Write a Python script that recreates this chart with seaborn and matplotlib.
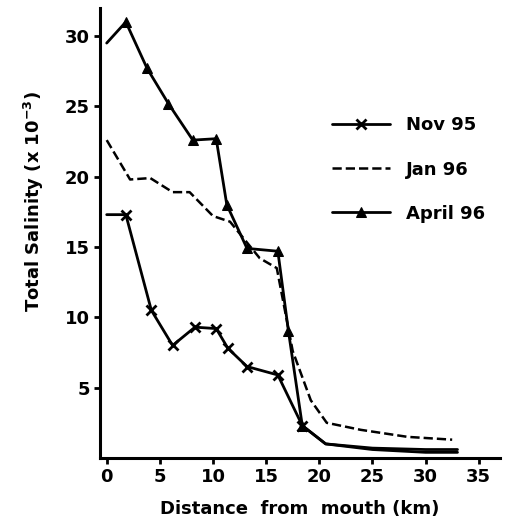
import pandas as pd
import seaborn as sns
import matplotlib.pyplot as plt

# Values
nov_km = [0, 1.8, 4.2, 6.2, 8.3, 10.3, 11.4, 13.2, 16.1, 18.4, 20.6, 25, 30, 33]
nov_sal = [17.3, 17.3, 10.5, 8.0, 9.3, 9.2, 7.8, 6.5, 5.9, 2.3, 1.0, 0.6, 0.4, 0.4]

jan_km = [0, 2.2, 4.1, 6.2, 7.8, 10.0, 11.6, 14.4, 16.0, 17.5, 19.2, 20.7, 23.9, 28.3, 32.5]
jan_sal = [22.6, 19.8, 19.9, 18.9, 18.9, 17.2, 16.8, 14.2, 13.5, 7.6, 4.1, 2.5, 2.0, 1.5, 1.3]

apr_km = [0, 1.8, 3.8, 5.8, 8.1, 10.3, 11.3, 13.2, 16.1, 17.1, 18.4, 20.6, 25, 30, 33]
apr_sal = [29.5, 31.0, 27.7, 25.2, 22.6, 22.7, 18.0, 14.9, 14.7, 9.0, 2.3, 1.0, 0.7, 0.6, 0.6]

x_ticks = [0, 5, 10, 15, 20, 25, 30, 35]
y_ticks = [5, 10, 15, 20, 25, 30]

sns.set_style("ticks")
plt.rcParams["font.family"] = ["DejaVu Sans"]
plt.rcParams["font.weight"] = "bold"
for key in ["text.color", "axes.labelcolor", "xtick.color", "ytick.color", "axes.edgecolor"]:
    plt.rcParams[key] = "black"

fig = plt.figure(figsize=(5.28, 5.27), dpi=100)
ax = fig.add_axes([0.19, 0.131, 0.757, 0.854])

sns.lineplot(x=nov_km, y=nov_sal, ax=ax, color="black", lw=2, marker="x",
             markersize=7, mew=2, mec="black", markevery=slice(1, 10), label="Nov 95")
sns.lineplot(x=jan_km, y=jan_sal, ax=ax, color="black", lw=1.8, linestyle="--",
             dashes=(4, 3), label="Jan 96")
sns.lineplot(x=apr_km, y=apr_sal, ax=ax, color="black", lw=2, marker="^",
             markersize=6.5, mec="black", markevery=slice(1, 11), label="April 96")

ax.set_xlim(-0.6, 37)
ax.set_ylim(0, 32)
ax.set_xticks(x_ticks)
ax.set_yticks(y_ticks)
ax.tick_params(labelsize=13, width=2, length=4)
for lab in ax.get_xticklabels() + ax.get_yticklabels():
    lab.set_fontweight("bold")
sns.despine(ax=ax)
for s in ["left", "bottom"]:
    ax.spines[s].set_linewidth(2.2)

ax.set_xlabel("Distance  from  mouth (km)", fontsize=13, fontweight="bold", labelpad=10)
ax.set_ylabel("Total Salinity (x 10$^{-3}$)", fontsize=13, fontweight="bold", labelpad=4)
ax.yaxis.set_label_coords(-0.135, 0.57)

ax.legend(loc="upper left", bbox_to_anchor=(0.54, 0.795), frameon=False,
          handlelength=3.2, labelspacing=1.45, handletextpad=0.9,
          prop={"weight": "bold", "size": 13})

plt.savefig("out.png", dpi=100)
